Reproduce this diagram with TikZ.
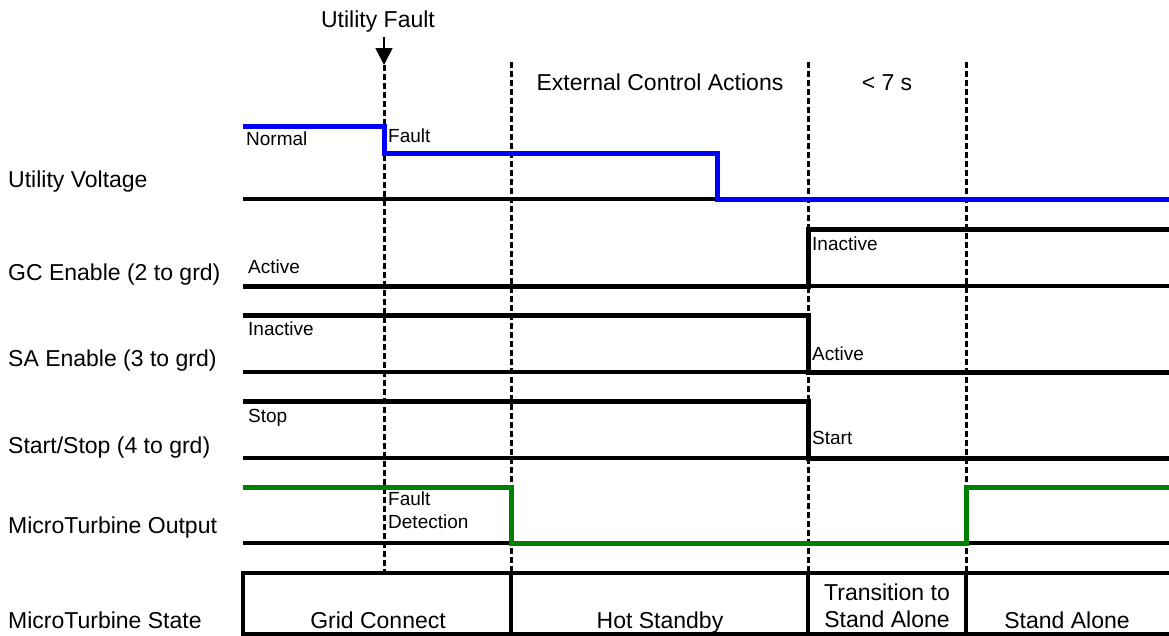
\documentclass[tikz,border=0pt]{standalone}
\usepackage{fontspec}
\setmainfont{Liberation Sans}
\usetikzlibrary{positioning,arrows.meta,calc}
\definecolor{voltblue}{RGB}{0,0,255}
\definecolor{outgreen}{RGB}{0,128,0}
\tikzstyle{rowlabel}=[anchor=base west, inner sep=0pt, font=\fontsize{23}{27}\selectfont]
\tikzstyle{toplabel}=[anchor=base, inner sep=0pt, font=\fontsize{23}{27}\selectfont]
\tikzstyle{statelabel}=[anchor=base, inner sep=0pt, align=center, font=\fontsize{23}{27}\selectfont]
\tikzstyle{levellabel}=[anchor=base west, inner sep=0pt, align=left, font=\fontsize{19}{23}\selectfont]
\tikzstyle{axis}=[line width=3.2pt]
\tikzstyle{sig}=[line width=5pt]
\tikzstyle{timemark}=[line width=3pt, dash pattern=on 6pt off 3pt]
\tikzstyle{myarrow}=[-{Triangle[length=17pt,width=17pt]}, line width=1.5pt]

\begin{document}
\begin{tikzpicture}[x=1pt, y=-1pt]

        \useasboundingbox (0,0) rectangle (1169,635);

        % Time marks
        \coordinate (tfault) at (384,65);
        \coordinate (tdetect) at (511,62);
        \coordinate (tswitch) at (808,62);
        \coordinate (tstart) at (966,62);

        \draw[timemark] (tfault) -- (384,573);
        \draw[timemark] (tdetect) -- (511,573);
        \draw[timemark] (tswitch) -- (808,573);
        \draw[timemark] (tstart) -- (966,573);

        \node (utilfault) [toplabel] at (378,27) {Utility Fault};
        \draw[myarrow] ([yshift=-5pt]utilfault.south -| tfault) -- (tfault);

        \node (external) [toplabel] at (660,90) {External Control Actions};
        \node (lessseven) [toplabel] at (887,90) {< 7 s};

        % Row labels
        \node (uvlabel) [rowlabel] at (8,187) {Utility Voltage};
        \node (gclabel) [rowlabel] at (8,280) {GC Enable (2 to grd)};
        \node (salabel) [rowlabel] at (8,366) {SA Enable (3 to grd)};
        \node (sslabel) [rowlabel] at (8,453) {Start/Stop (4 to grd)};
        \node (mtolabel) [rowlabel] at (8,533) {MicroTurbine Output};
        \node (mtslabel) [rowlabel] at (8,628) {MicroTurbine State};

        %Utility Voltage
        \draw[axis] (243,199) -- (1169,199);
        \draw[sig, voltblue] (243,126) -- (384,126) -- (384,153) -- (717,153) -- (717,199) -- (1169,199);
        \node (normal) [levellabel] at (246,145) {Normal};
        \node (fault) [levellabel] at (388,142) {Fault};

        %GC Enable
        \draw[axis] (243,286) -- (1169,286);
        \draw[sig] (243,286) -- (808,286) -- (808,229) -- (1169,229);
        \node (gcactive) [levellabel] at (248,273) {Active};
        \node (gcinactive) [levellabel] at (812,250) {Inactive};

        %SA Enable
        \draw[axis] (243,372) -- (1169,372);
        \draw[sig] (243,315) -- (808,315) -- (808,372) -- (1169,372);
        \node (sainactive) [levellabel] at (248,335) {Inactive};
        \node (saactive) [levellabel] at (812,360) {Active};

        %Start/Stop
        \draw[axis] (243,458) -- (1169,458);
        \draw[sig] (243,401) -- (808,401) -- (808,458) -- (1169,458);
        \node (stop) [levellabel] at (248,422) {Stop};
        \node (start) [levellabel] at (812,444) {Start};

        %MicroTurbine Output
        \draw[axis] (243,543) -- (1169,543);
        \draw[sig, outgreen] (243,487) -- (511,487) -- (511,543) -- (966,543) -- (966,487) -- (1169,487);
        \node (faultdetect) [levellabel] at (388,528) {Fault\\Detection};

        %MicroTurbine State
        \draw[axis] (1169,573) -- (243,573) -- (243,634) -- (1169,634);
        \draw[axis] (511,573) -- (511,634);
        \draw[axis] (808,573) -- (808,634);
        \draw[axis] (966,573) -- (966,634);

        \node (gridconnect) [statelabel] at (378,628) {Grid Connect};
        \node (hotstandby) [statelabel] at (660,628) {Hot Standby};
        \node (transition) [statelabel] at (887,627) {Transition to\\Stand Alone};
        \node (standalone) [statelabel] at (1067,628) {Stand Alone};

\end{tikzpicture}
\end{document}
